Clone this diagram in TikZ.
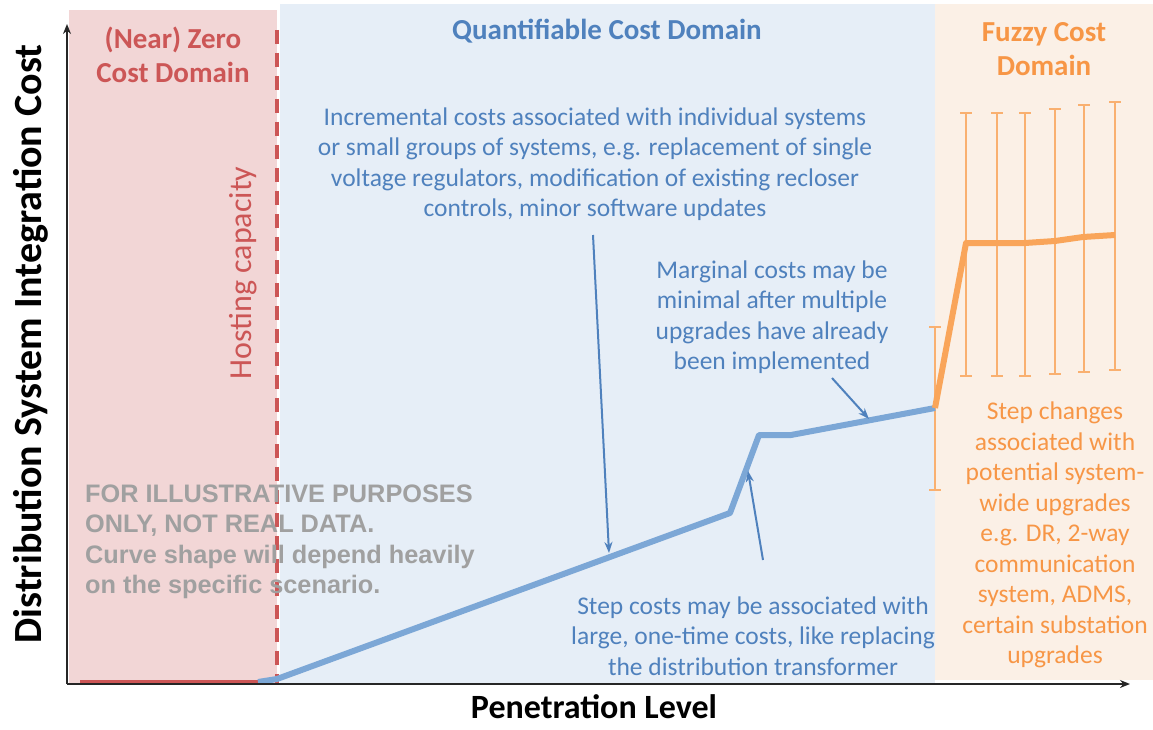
\documentclass[tikz,border=0pt]{standalone}
\usepackage{fontspec}
\setmainfont{Carlito}
\newfontfamily\arialf{Liberation Sans}
\usetikzlibrary{arrows.meta}
\definecolor{pinkbg}{RGB}{242,214,214}
\definecolor{bluebg}{RGB}{230,238,247}
\definecolor{orangebg}{RGB}{251,240,230}
\definecolor{redc}{RGB}{204,86,86}
\definecolor{bluec}{RGB}{79,129,189}
\definecolor{bluecurve}{RGB}{124,167,214}
\definecolor{orangec}{RGB}{247,150,70}
\definecolor{orangecurve}{RGB}{249,165,90}
\definecolor{orangebar}{RGB}{249,176,112}
\definecolor{grayt}{RGB}{160,160,160}
\tikzset{
  ann/.style={font=\fontsize{25.5}{30.5}\selectfont, align=center, inner sep=0pt},
  domtitle/.style={font=\bfseries\fontsize{29}{34}\selectfont, align=center, inner sep=0pt},
  callout/.style={draw=bluec, line width=2pt, -{Stealth[length=11pt,width=8pt]}},
  ebar/.style={draw=orangebar, line width=2pt},
}
\begin{document}
\begin{tikzpicture}[x=1pt,y=-1pt]
\useasboundingbox (0,0) rectangle (1153,730);
% backgrounds
\fill[pinkbg] (69,10) rectangle (277,684);
\fill[bluebg] (280,4) rectangle (935,684);
\fill[orangebg] (935,4) rectangle (1153,680);
% hosting capacity line
\coordinate (hcTop) at (277,30);
\coordinate (hcBot) at (277,684);
\draw[redc, line width=3.5pt, dash pattern=on 14pt off 9pt] (hcTop) -- (hcBot);
% error bars
\foreach \x/\t/\b in {935/327/490, 966/113/376, 997/113/376, 1025/113/376, 1055/109/374, 1084/105/372, 1115/102/370}{
  \draw[ebar] (\x,\t) -- (\x,\b);
  \draw[ebar] (\x-6,\t) -- (\x+6,\t);
  \draw[ebar] (\x-6,\b) -- (\x+6,\b);
}
% curves
\draw[redc, line width=5pt] (80,682) -- (258,682);
\coordinate (p0) at (258,682);
\coordinate (p1) at (277,679);
\coordinate (p2) at (730,513);
\coordinate (p3) at (759,435);
\coordinate (p4) at (791,435);
\coordinate (p5) at (935,408);
\draw[bluecurve, line width=6pt, line join=round] (p0) -- (p1) -- (p2) -- (p3) -- (p4) -- (p5);
\draw[orangecurve, line width=6pt, line join=round] (p5) -- (966,243) -- (1025,243) -- (1055,241) -- (1083,237) -- (1115,235);
% axes
\coordinate (origin) at (67,684);
\coordinate (ytip) at (67,24);
\coordinate (xtip) at (1130,684);
\draw[black!85, line width=2pt, -{Stealth[length=10pt,width=8pt]}] (origin) -- (ytip);
\draw[black!85, line width=2pt, -{Stealth[length=10pt,width=8pt]}] (origin) -- (xtip);
% titles
\node[domtitle, text=redc] (zero) at (173,55) {(Near) Zero\\Cost Domain};
\node[domtitle, text=bluec] (quant) at (607,31) {Quantifiable Cost Domain};
\node[domtitle, text=orangec] (fuzzy) at (1044,49) {Fuzzy Cost\\Domain};
\node[inner sep=0pt, text=redc, rotate=90, font=\fontsize{32}{36}\selectfont] (hc) at (243,273) {Hosting capacity};
% annotations
\node[ann, text=bluec] (incr) at (595,164) {Incremental costs associated with individual systems\\or small groups of systems, e.g. replacement of single\\voltage regulators, modification of existing recloser\\controls, minor software updates};
\node[ann, text=bluec] (marg) at (772,317) {Marginal costs may be\\minimal after multiple\\upgrades have already\\been implemented};
\node[ann, text=bluec] (stepc) at (753,636) {Step costs may be associated with\\large, one-time costs, like replacing\\the distribution transformer};
\node[ann, text=orangec] (stepch) at (1055,535) {Step changes\\associated with\\potential system-\\wide upgrades\\e.g. DR, 2-way\\communication\\system, ADMS,\\certain substation\\upgrades};
\node[inner sep=0pt, anchor=west, align=left, text=grayt, font=\arialf\bfseries\fontsize{25.3}{30.5}\selectfont] (illus) at (85,542) {FOR ILLUSTRATIVE PURPOSES\\ONLY, NOT REAL DATA.\\Curve shape will depend heavily\\on the specific scenario.};
% callout arrows
\coordinate (a1s) at (593,235);
\coordinate (a1e) at (609,553);
\coordinate (a2s) at (832,378);
\coordinate (a2e) at (869,419);
\coordinate (a3s) at (763,560);
\coordinate (a3e) at (748,471);
\draw[callout] (a1s) -- (a1e);
\draw[callout] (a2s) -- (a2e);
\draw[callout] (a3s) -- (a3e);
% axis labels
\node[inner sep=0pt, rotate=90, font=\bfseries\fontsize{40}{44}\selectfont] (ylab) at (31,344) {Distribution System Integration Cost};
\node[inner sep=0pt, anchor=base, font=\bfseries\fontsize{34}{40}\selectfont] (xlab) at (594,718) {Penetration Level};
\end{tikzpicture}
\end{document}
